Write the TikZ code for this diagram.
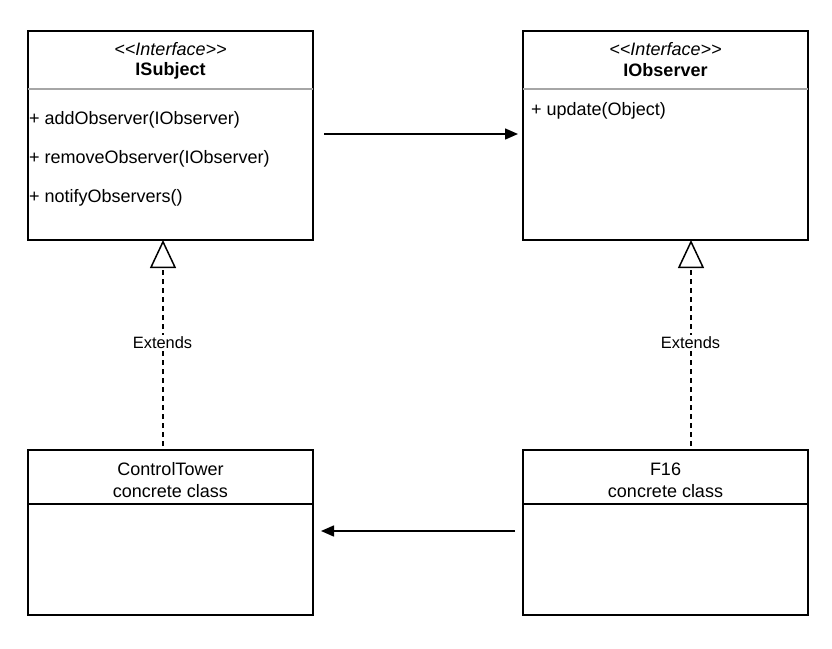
\documentclass[tikz,border=0pt]{standalone}
\usepackage{fontspec}
\setmainfont{Liberation Sans}
\usetikzlibrary{arrows.meta}
\begin{document}
\begin{tikzpicture}[x=1pt,y=-1pt,
  box/.style={draw=black,line width=1.5pt,fill=white,minimum width=285pt,inner sep=0pt,outer sep=0pt},
  txt/.style={inner sep=0pt,font=\fontsize{18}{21}\selectfont},
  member/.style={txt,anchor=west},
  divider/.style={line width=1.5pt},
  assoc/.style={line width=1.5pt,-{Triangle[length=13pt,width=11pt]}},
  realize/.style={line width=1.5pt,dash pattern=on 5.5pt off 3.5pt,
    -{Triangle[length=28pt,width=26pt,fill=white,line width=1.5pt]}},
  lbl/.style={fill=white,inner sep=2pt,font=\fontsize{16.4}{19}\selectfont}]
\useasboundingbox[fill=white] (0,0) rectangle (832,648);

% interfaces
\node[box,minimum height=209pt] (is) at (170.5,135.5) {};
\node[box,minimum height=209pt] (io) at (665.5,135.5) {};
\draw[divider,draw=black!35] (28,89) -- (313,89);
\draw[divider,draw=black!35] (523,89) -- (808,89);

\node[txt] (isst) at (170.5,49) {\itshape {<}{<}Interface{>}{>}};
\node[txt] (isnm) at (170.5,70.5) {\bfseries ISubject};
\node[member] (m1) at (29,119.5) {+ addObserver(IObserver)};
\node[member] (m2) at (29,158.5) {+ removeObserver(IObserver)};
\node[member] (m3) at (29,197.5) {+ notifyObservers()};

\node[txt] (iost) at (665.5,49) {\itshape {<}{<}Interface{>}{>}};
\node[txt] (ionm) at (665.5,70.5) {\bfseries IObserver};
\node[member] (m4) at (531,110.5) {+ update(Object)};

% concrete classes
\node[box,minimum height=165pt] (ct) at (170.5,532.5) {};
\node[box,minimum height=165pt] (f16) at (665.5,532.5) {};
\draw[divider] (28,504) -- (313,504);
\draw[divider] (523,504) -- (808,504);

\node[txt] (ctn) at (170.5,469) {ControlTower};
\node[txt] (ctk) at (170.5,491) {concrete class};
\node[txt] (fn) at (665.5,469) {F16};
\node[txt] (fk) at (665.5,491) {concrete class};

% associations
\draw[assoc,shorten <=11pt,shorten >=5pt] ([yshift=1.5pt]is.east) -- ([yshift=1.5pt]io.west);
\draw[assoc,shorten <=8pt,shorten >=8pt] ([yshift=1.5pt]f16.west) -- ([yshift=1.5pt]ct.east);

% realizations
\draw[realize,shorten <=4pt] ([xshift=-7.5pt]ct.north) -- ([xshift=-7.5pt]is.south);
\draw[realize,shorten <=4pt] ([xshift=25.5pt]f16.north) -- ([xshift=25.5pt]io.south);
\node[lbl] (e1) at (162.5,343) {Extends};
\node[lbl] (e2) at (690.5,343) {Extends};
\end{tikzpicture}
\end{document}
